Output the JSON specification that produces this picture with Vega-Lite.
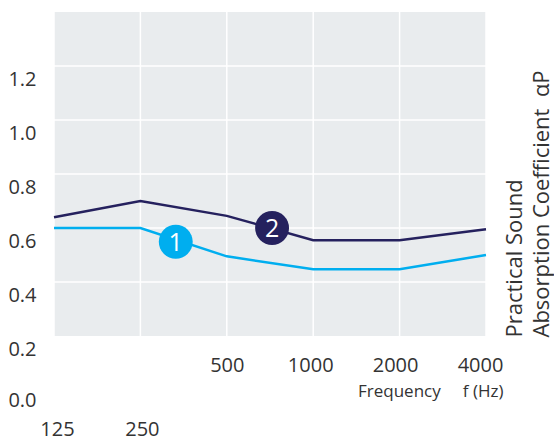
{
  "$schema": "https://vega.github.io/schema/vega-lite/v6.json",
  "width": 432,
  "height": 378,
  "autosize": {"type": "none"},
  "padding": {"left": 54, "top": 12, "right": 68, "bottom": 51},
  "background": "white",
  "config": {"view": {"stroke": null}, "font": "Open Sans"},
  "datasets": {
    "curves": [
      {"series": "2", "freq": 125, "alpha": 0.64},
      {"series": "2", "freq": 250, "alpha": 0.70},
      {"series": "2", "freq": 500, "alpha": 0.645},
      {"series": "2", "freq": 1000, "alpha": 0.555},
      {"series": "2", "freq": 2000, "alpha": 0.555},
      {"series": "2", "freq": 4000, "alpha": 0.595},
      {"series": "1", "freq": 125, "alpha": 0.60},
      {"series": "1", "freq": 250, "alpha": 0.60},
      {"series": "1", "freq": 500, "alpha": 0.495},
      {"series": "1", "freq": 1000, "alpha": 0.447},
      {"series": "1", "freq": 2000, "alpha": 0.447},
      {"series": "1", "freq": 4000, "alpha": 0.50}
    ],
    "badges": [
      {"series": "1", "freq": 332, "alpha": 0.549},
      {"series": "2", "freq": 719, "alpha": 0.60}
    ],
    "xgrid": [
      {"freq": 125}, {"freq": 250}, {"freq": 500}, {"freq": 1000}, {"freq": 2000}, {"freq": 4000}
    ],
    "ygrid": [
      {"alpha": 0.4}, {"alpha": 0.6}, {"alpha": 0.8}, {"alpha": 1.0}, {"alpha": 1.2}
    ],
    "panel": [
      {"lo": 0.2, "hi": 1.4}
    ]
  },
  "layer": [
    {
      "data": {"name": "panel"},
      "mark": {"type": "rect", "color": "#E9ECEE"},
      "encoding": {
        "y": {"field": "lo", "type": "quantitative"},
        "y2": {"field": "hi"}
      }
    },
    {
      "data": {"name": "xgrid"},
      "mark": {"type": "rule", "color": "#FFFFFF", "strokeWidth": 1.5},
      "encoding": {
        "x": {"field": "freq", "type": "quantitative"},
        "y": {"datum": 0.2, "type": "quantitative"},
        "y2": {"datum": 1.4}
      }
    },
    {
      "data": {"name": "ygrid"},
      "mark": {"type": "rule", "color": "#FFFFFF", "strokeWidth": 1.5},
      "encoding": {
        "y": {"field": "alpha", "type": "quantitative"}
      }
    },
    {
      "data": {"name": "curves"},
      "mark": {"type": "line", "strokeWidth": 2.5},
      "encoding": {
        "x": {
          "field": "freq",
          "type": "quantitative",
          "scale": {"type": "log", "base": 2, "domain": [125, 4000], "nice": false},
          "axis": {
            "values": [125, 250, 500, 1000, 2000, 4000],
            "format": "d",
            "grid": false,
            "ticks": false,
            "domain": false,
            "labelFont": "Open Sans",
            "labelFontSize": 20,
            "labelColor": "#333333",
            "labelBaseline": "top",
            "labelAlign": "center",
            "labelFlush": false,
            "labelOverlap": false,
            "labelBound": false,
            "labelPadding": {"condition": {"test": "datum.value < 300", "value": 29}, "value": -35},
            "labelOffset": {
              "condition": [
                {"test": "datum.value == 125", "value": 3},
                {"test": "datum.value == 250", "value": 1.5},
                {"test": "datum.value == 1000", "value": -3},
                {"test": "datum.value == 2000", "value": -4.5},
                {"test": "datum.value == 4000", "value": -6}
              ],
              "value": 0
            },
            "title": "Frequency\u00a0\u00a0\u00a0\u00a0\u00a0f (Hz)",
            "titleFont": "Open Sans",
            "titleFontSize": 17,
            "titleFontWeight": "normal",
            "titleColor": "#333333",
            "titleX": 449,
            "titleY": 6,
            "titleAlign": "right",
            "titleBaseline": "alphabetic",
            "titleAnchor": "end"
          }
        },
        "y": {
          "field": "alpha",
          "type": "quantitative",
          "scale": {"domain": [0, 1.4], "nice": false, "zero": false},
          "axis": {
            "values": [0, 0.2, 0.4, 0.6, 0.8, 1.0, 1.2],
            "format": ".1f",
            "grid": false,
            "ticks": false,
            "domain": false,
            "labelFont": "Open Sans",
            "labelFontSize": 20,
            "labelColor": "#333333",
            "labelAlign": "right",
            "labelBaseline": "middle",
            "labelPadding": 18,
            "labelOffset": {"condition": {"test": "datum.value < 0.1", "value": 10}, "value": 13},
            "labelFlush": false,
            "labelOverlap": false,
            "labelBound": false,
            "title": ["Practical Sound", "Absorption Coefficient\u00a0\u00a0αP"],
            "titleFont": "Open Sans",
            "titleFontSize": 22,
            "titleFontWeight": "normal",
            "titleColor": "#333333",
            "titleLineHeight": 27.5,
            "titleAngle": -90,
            "titleAlign": "left",
            "titleBaseline": "alphabetic",
            "titleX": 467,
            "titleY": 325,
            "titleAnchor": "start"
          }
        },
        "color": {"field": "series", "type": "nominal", "scale": {"domain": ["1", "2"], "range": ["#00AEEF", "#25215E"]}, "legend": null}
      }
    },
    {
      "data": {"name": "badges"},
      "mark": {"type": "circle", "size": 1150, "opacity": 1},
      "encoding": {
        "x": {"field": "freq", "type": "quantitative"},
        "y": {"field": "alpha", "type": "quantitative"},
        "color": {"field": "series", "type": "nominal", "legend": null}
      }
    },
    {
      "data": {"name": "badges"},
      "mark": {"type": "text", "fontSize": 25, "color": "#FFFFFF", "baseline": "middle", "align": "center", "font": "Open Sans", "dy": 1},
      "encoding": {
        "x": {"field": "freq", "type": "quantitative"},
        "y": {"field": "alpha", "type": "quantitative"},
        "text": {"field": "series", "type": "nominal"}
      }
    }
  ]
}
